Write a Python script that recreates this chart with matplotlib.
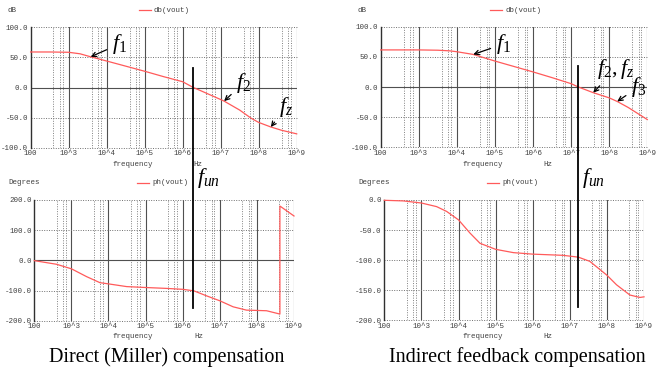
import matplotlib
matplotlib.use("Agg")
import matplotlib.pyplot as plt
import numpy as np
from matplotlib.lines import Line2D

W, H = 657, 373
plt.rcParams['mathtext.fontset'] = 'custom'
plt.rcParams['mathtext.it'] = 'Liberation Serif:italic'
plt.rcParams['mathtext.rm'] = 'Liberation Serif'

# ---- data (log10 of frequency, value) ----
mag_miller_lf = [2.0, 2.5, 3.0, 3.3, 3.58, 4.0, 4.5, 5.0, 5.5, 6.0, 6.28, 6.5, 7.0, 7.09, 7.5, 7.8, 8.0, 8.32, 8.6, 9.0]
mag_miller_db = [59, 59, 58.5, 56, 51, 44, 35.5, 27, 18, 9.6, 0, -6, -20, -22.6, -37.5, -51, -58, -65.6, -71, -77]

mag_indir_lf = [2.0, 3.0, 3.5, 3.8, 4.0, 4.43, 5.0, 5.5, 6.0, 6.5, 7.0, 7.19, 7.58, 8.0, 8.21, 8.5, 8.75, 9.0]
mag_indir_db = [61.5, 61.5, 61, 60, 58.5, 54, 43, 34, 25, 15.5, 5.5, 0, -9.4, -18, -24, -34, -44, -54]

ph_miller_lf = [2.0, 2.6, 3.0, 3.41, 3.77, 4.0, 4.49, 5.0, 5.57, 6.0, 6.3, 6.65, 7.0, 7.36, 7.72, 8.0, 8.26, 8.62, 8.62, 9.0]
ph_miller_deg = [-1, -13, -28, -54, -74, -78, -87, -90, -93, -96, -101, -118, -134, -154, -165, -166, -167, -178, 180, 147]

ph_indir_lf = [2.0, 2.51, 3.0, 3.41, 3.68, 4.0, 4.31, 4.58, 5.0, 5.48, 6.0, 6.82, 7.23, 7.54, 8.0, 8.26, 8.62, 8.89, 9.0]
ph_indir_deg = [-0.5, -1.5, -5, -11, -19, -33, -55, -72, -82, -87.5, -90, -92, -95, -102, -125, -141, -158, -162, -161]

fun_lf = [6.28, 7.19]           # unity gain frequencies
decades = [2, 3, 4, 5, 6, 7, 8, 9]
xlabels = ['100', '10^3', '10^4', '10^5', '10^6', '10^7', '10^8', '10^9']
captions = ['Direct (Miller) compensation', 'Indirect feedback compensation']

RED = '#ff5a5a'
GRID = '#505050'
MONO = 'Liberation Mono'


def fx(x):
    return x / W


def fy(y):
    return 1 - y / H


fig = plt.figure(figsize=(W / 100, H / 100), dpi=100)
fig.patch.set_facecolor('white')


def make_ax(x0, y0, x1, y1, ylim, yticks, solid_y):
    ax = fig.add_axes([fx(x0), fy(y1), (x1 - x0) / W, (y1 - y0) / H])
    ax.set_facecolor('none')
    ax.set_xscale('log')
    ax.set_xlim(1e2, 1e9)
    ax.set_ylim(*ylim)
    for s in ['top', 'right', 'bottom']:
        ax.spines[s].set_visible(False)
    ax.spines['left'].set_color('#303030')
    ax.spines['left'].set_linewidth(1.0)
    for d in decades[1:]:
        ax.axvline(10.0 ** d, color=GRID, lw=0.8, zorder=1)
        for m in [4, 6, 7]:
            ax.axvline(m * 10.0 ** (d - 1), color='#808080', lw=0.7, ls=(0, (1, 1.5)), zorder=1)
    for yv in yticks:
        if yv == solid_y:
            ax.axhline(yv, color=GRID, lw=0.8, zorder=1)
        else:
            ax.axhline(yv, color='#707070', lw=0.7, ls=(0, (1, 1.5)), zorder=1, clip_on=False)
    ax.set_xticks([10.0 ** d for d in decades])
    ax.set_xticklabels(xlabels)
    ax.xaxis.set_minor_locator(matplotlib.ticker.NullLocator())
    ax.set_yticks(yticks)
    ax.set_yticklabels(['%.1f' % v for v in yticks])
    ax.tick_params(length=0, labelsize=5.4, colors='#404040', pad=2)
    for lab in ax.get_xticklabels() + ax.get_yticklabels():
        lab.set_family(MONO)
    return ax


ax_tl = make_ax(30.6, 27.3, 296.7, 147.7, (-100, 100), [100, 50, 0, -50, -100], 0)
ax_tr = make_ax(380.7, 26.7, 647.3, 147.3, (-100, 100), [100, 50, 0, -50, -100], 0)
ax_bl = make_ax(34.3, 200, 294, 320.7, (-200, 200), [200, 100, 0, -100, -200], 0)
ax_br = make_ax(384.3, 200, 644, 320.3, (-200, 0), [0, -50, -100, -150, -200], None)

ax_tl.plot(10.0 ** np.array(mag_miller_lf), mag_miller_db, color=RED, lw=0.9, zorder=3, clip_on=False)
ax_tr.plot(10.0 ** np.array(mag_indir_lf), mag_indir_db, color=RED, lw=0.9, zorder=3, clip_on=False)
ax_bl.plot(10.0 ** np.array(ph_miller_lf), ph_miller_deg, color=RED, lw=0.9, zorder=3, clip_on=False)
ax_br.plot(10.0 ** np.array(ph_indir_lf), ph_indir_deg, color=RED, lw=0.9, zorder=3, clip_on=False)

# plot headers: unit, legend, axis names
mono = dict(family=MONO, fontsize=5.4, color='#404040')
fig.text(fx(8), fy(10), 'dB', va='center', **mono)
fig.text(fx(358), fy(10), 'dB', va='center', **mono)
fig.text(fx(8), fy(183), 'Degrees', va='center', **mono)
fig.text(fx(358), fy(183), 'Degrees', va='center', **mono)

legend_items = [(139, 10, 'db(vout)'), (490, 10, 'db(vout)'), (137, 183, 'ph(vout)'), (487, 183, 'ph(vout)')]
for lx, ly, txt in legend_items:
    fig.add_artist(Line2D([fx(lx), fx(lx + 12)], [fy(ly), fy(ly)], color=RED, lw=0.9))
    fig.text(fx(lx + 15), fy(ly), txt, va='center', **mono)

for cx, hx, yy in [(133, 193, 164), (483, 543, 164), (133, 194, 337), (483, 543, 337)]:
    fig.text(fx(cx), fy(yy), 'frequency', va='center', ha='center', **mono)
    fig.text(fx(hx), fy(yy), 'Hz', va='center', **mono)

# unity gain lines across magnitude and phase plots
fig.canvas.draw()
for ax_top, lf, ytop, ybot in [(ax_tl, fun_lf[0], 68, 308), (ax_tr, fun_lf[1], 66, 307)]:
    xd = ax_top.transData.transform((10.0 ** lf, 0))[0]
    xf = fig.transFigure.inverted().transform((xd, 0))[0]
    fig.add_artist(Line2D([xf, xf], [fy(ytop), fy(ybot)], color='black', lw=1.3))
    fig.text(xf + fx(4), fy(178), r'$f_{un}$', fontsize=16, va='center')

# pole / zero annotations
ann = [
    (ax_tl, 3.58, 51, r'$f_1$', 112, 44),
    (ax_tl, 7.09, -22.6, r'$f_2$', 236, 83),
    (ax_tl, 8.32, -65.6, r'$f_z$', 279, 107),
    (ax_tr, 4.43, 54, r'$f_1$', 496, 44),
    (ax_tr, 7.58, -9.4, r'$f_2,f_z$', 597, 69),
    (ax_tr, 8.21, -24, r'$f_3$', 631, 87),
]
for ax, lf, v, txt, tx, ty in ann:
    ax.annotate(txt, xy=(10.0 ** lf, v), xycoords='data',
                xytext=(fx(tx), fy(ty)), textcoords='figure fraction',
                fontsize=16, va='center', ha='left', annotation_clip=False,
                arrowprops=dict(arrowstyle='->', color='black', lw=0.9,
                                shrinkA=2, shrinkB=0, mutation_scale=8))

fig.text(fx(166.7), fy(357), captions[0], fontsize=14.5, family='Liberation Serif', ha='center', va='center')
fig.text(fx(517.5), fy(357), captions[1], fontsize=14.5, family='Liberation Serif', ha='center', va='center')

fig.savefig('out.png', dpi=100)
